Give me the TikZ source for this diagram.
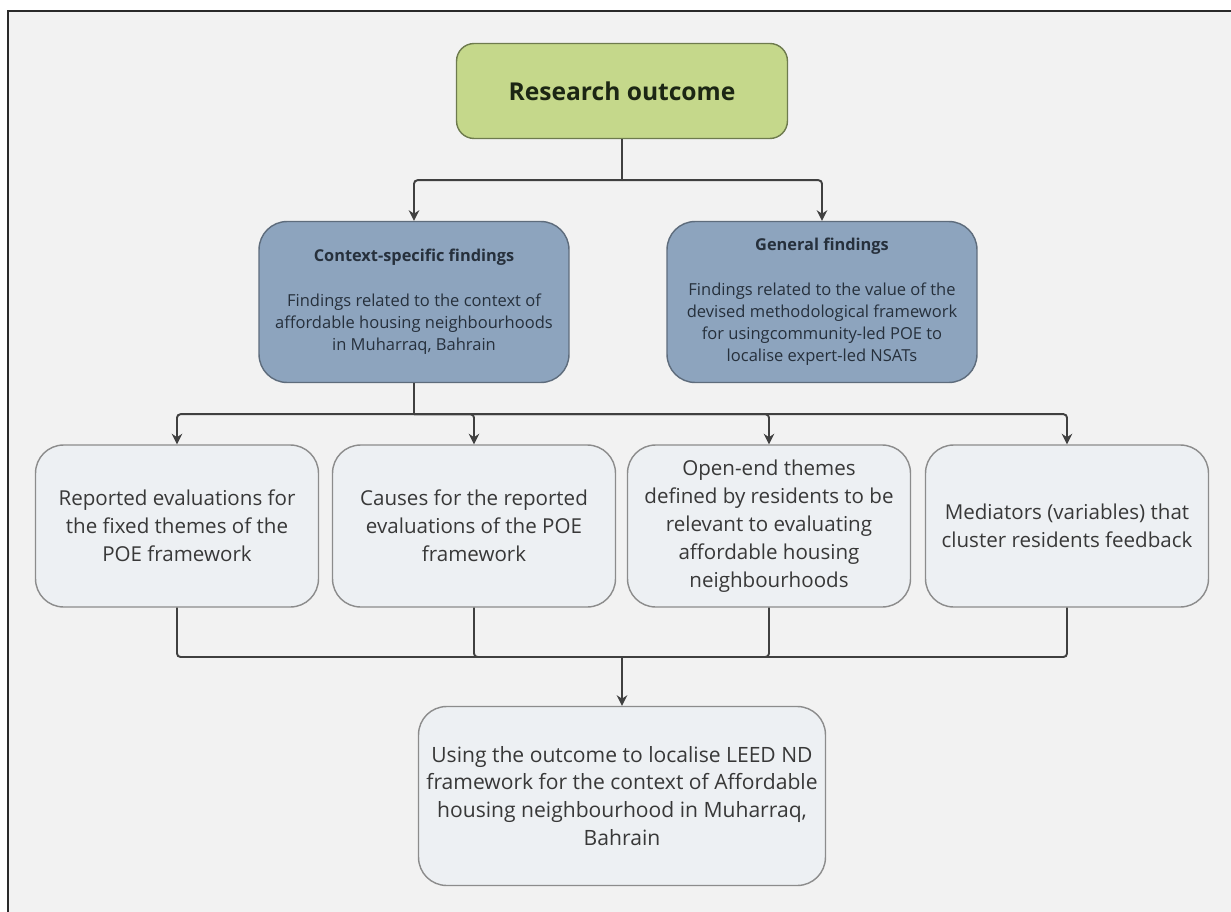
\documentclass[tikz,border=0pt]{standalone}
\usepackage{fontspec}
\setmainfont{Open Sans}
\usetikzlibrary{arrows.meta}
\definecolor{bggrey}{HTML}{F2F2F2}
\definecolor{framegrey}{HTML}{2A2A2A}
\definecolor{outgreen}{HTML}{C5D88B}
\definecolor{outgreenline}{HTML}{6E7B4E}
\definecolor{findblue}{HTML}{8DA4BE}
\definecolor{findblueline}{HTML}{5E6C7C}
\definecolor{findtext}{HTML}{26303C}
\definecolor{itemfill}{HTML}{EDF0F3}
\definecolor{itemline}{HTML}{8C8C8C}
\definecolor{linkgrey}{HTML}{404040}
\definecolor{textgrey}{HTML}{383838}
\definecolor{titlegreen}{HTML}{1C2614}

\begin{document}
\begin{tikzpicture}[x=0.02cm, y=-0.02cm,
    outcome/.style={draw=outgreenline, fill=outgreen, line width=0.8pt, rounded corners=10pt,
      minimum width=6.62cm, minimum height=1.9cm, inner sep=0pt, align=center,
      text=titlegreen, font=\fontsize{14}{16}\selectfont\bfseries},
    finding/.style={draw=findblueline, fill=findblue, line width=0.8pt, rounded corners=16pt,
      minimum width=6.2cm, minimum height=3.22cm, inner sep=0pt, align=center,
      text=findtext, font=\fontsize{9.4}{12.5}\selectfont},
    item/.style={draw=itemline, fill=itemfill, line width=0.8pt, rounded corners=16pt,
      minimum width=5.66cm, minimum height=3.24cm, inner sep=0pt, align=center,
      text=textgrey, font=\fontsize{11.7}{15.9}\selectfont},
    link/.style={draw=linkgrey, line width=1.1pt, rounded corners=2pt},
    arr/.style={link, -{Stealth[length=6pt, width=6pt]}}]
  \useasboundingbox (0,0) rectangle (1231,912);

  % Frame
  \fill[white] (0,0) rectangle (1231,912);
  \fill[bggrey] (8,11) rectangle (1231,912);
  \draw[framegrey, line width=1.6pt] (1231,11) -- (8,11) -- (8,912);

  % Top
  \node[outcome] (res) at (622,91) {Research outcome};

  % Findings
  \node[finding] (ctx) at (414,302) {{\fontsize{9.3}{12.5}\selectfont\bfseries Context-specific findings}\\[13pt]
    Findings related to the context of\\affordable housing neighbourhoods\\in Muharraq, Bahrain};
  \node[finding] (gen) at (822,302) {{\fontsize{9.3}{12.5}\selectfont\bfseries General findings}\\[13pt]
    Findings related to the value of the\\devised methodological framework\\for usingcommunity-led POE to\\localise expert-led NSATs};

  % Outcome items
  \node[item] (r1) at (177,526) {Reported evaluations for\\the fixed themes of the\\POE framework};
  \node[item] (r2) at (474,526) {Causes for the reported\\evaluations of the POE\\framework};
  \node[item] (r3) at (769,526) {Open-end themes\\defined by residents to be\\relevant to evaluating\\affordable housing\\neighbourhoods};
  \node[item] (r4) at (1067,526) {Mediators (variables) that\\cluster residents feedback};

  % Use
  \node[item, minimum width=8.14cm, minimum height=3.58cm, font=\fontsize{12}{15.9}\selectfont] (use) at (622,796)
    {Using the outcome to localise LEED ND\\framework for the context of Affordable\\housing neighbourhood in Muharraq,\\Bahrain};

  % Top split
  \draw[link] (res.south) -- ++(0,41) coordinate (split1);
  \draw[arr] (split1) -| (ctx.north);
  \draw[arr] (split1) -| (gen.north);

  % Item split
  \draw[link] (ctx.south) -- ++(0,31) coordinate (split2);
  \draw[arr] (split2) -| (r1.north);
  \draw[arr] (split2) -| (r2.north);
  \draw[arr] (split2) -| (r3.north);
  \draw[arr] (split2) -| (r4.north);

  % Merge
  \coordinate (merge) at (622,657);
  \draw[link] (r1.south) |- (merge);
  \draw[link] (r2.south) |- (merge);
  \draw[link] (r3.south) |- (merge);
  \draw[link] (r4.south) |- (merge);
  \draw[arr] (merge) -- (use.north);
\end{tikzpicture}
\end{document}
